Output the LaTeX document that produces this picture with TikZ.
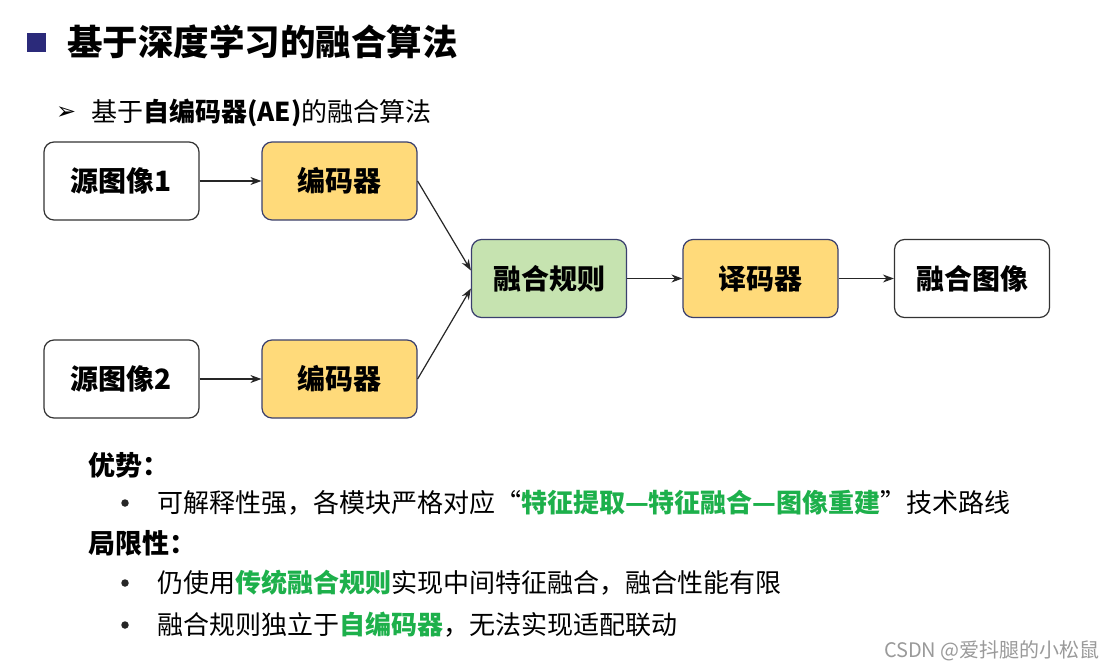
\documentclass[tikz,border=0pt]{standalone}
\usepackage{fontspec}
\setmainfont{Noto Sans CJK SC}
\newfontfamily\dejavu{DejaVu Sans}
\usetikzlibrary{arrows.meta}
\definecolor{navy}{HTML}{2B2A7A}
\definecolor{boxyellow}{HTML}{FFDA7A}
\definecolor{boxgreen}{HTML}{C6E3B0}
\definecolor{boxedge}{HTML}{3A3F6E}
\definecolor{hlgreen}{HTML}{1DB04B}
\definecolor{wmgray}{HTML}{9A9A9A}
\begin{document}
\begin{tikzpicture}[x=1pt,y=-1pt,
  box/.style={draw, rounded corners=10pt, minimum width=155pt, minimum height=78pt, line width=1.2pt, font=\fontsize{28}{30}\selectfont\bfseries, inner sep=0pt},
  plainbox/.style={box, draw=black!80, fill=white},
  encbox/.style={box, draw=boxedge, fill=boxyellow},
  fusebox/.style={box, draw=boxedge, fill=boxgreen},
  arr/.style={-{Stealth[length=11pt,width=8pt]}, line width=1.2pt, draw=black!85},
  txt/.style={anchor=west, inner sep=0pt},
  head/.style={txt, font=\fontsize{27}{29}\selectfont\bfseries},
  body/.style={txt, font=\fontsize{26}{28}\selectfont},
  dot/.style={circle, fill=black!85, inner sep=0pt, minimum size=7.5pt}
]
\fill[white] (0,0) rectangle (1117,670);
\useasboundingbox (0,0) rectangle (1117,670);

% title
\node[fill=navy, minimum size=19pt, inner sep=0pt] (sq) at (36.5,42) {};
\node[txt, font=\fontsize{35.5}{38}\selectfont\bfseries] (title) at (67,42) {基于深度学习的融合算法};
\node[txt, font=\dejavu\fontsize{24}{26}\selectfont] (subarrow) at (56,113) {➢};
\node[txt, font=\fontsize{26}{28}\selectfont] (sub) at (91,113) {基于\textbf{自编码器(AE)}的融合算法};

% diagram
\node[plainbox] (src1) at (121.5,181) {源图像1};
\node[encbox] (enc1) at (339.5,181) {编码器};
\node[plainbox] (src2) at (121.5,379) {源图像2};
\node[encbox] (enc2) at (339.5,379) {编码器};
\node[fusebox] (rule) at (549,278.5) {融合规则};
\node[encbox] (dec) at (760.5,278.5) {译码器};
\node[plainbox] (out) at (972,278.5) {融合图像};

\draw[arr] (src1) -- (enc1);
\draw[arr] (src2) -- (enc2);
\draw[arr] (enc1.east) -- ([yshift=8pt]rule.west);
\draw[arr] (enc2.east) -- ([yshift=-10pt]rule.west);
\draw[arr] (rule) -- (dec);
\draw[arr] (dec) -- (out);

% text
\node[head] (adv) at (88,465) {优势：};
\node[dot] (b1) at (125,503) {};
\node[body] (t1) at (157,503) {可解释性强，各模块严格对应“\textcolor{hlgreen}{\bfseries 特征提取—特征融合—图像重建}”技术路线};
\node[head] (lim) at (88,543) {局限性：};
\node[dot] (b2) at (125,583) {};
\node[body] (t2) at (157,583) {仍使用\textcolor{hlgreen}{\bfseries 传统融合规则}实现中间特征融合，融合性能有限};
\node[dot] (b3) at (125,625) {};
\node[body] (t3) at (157,625) {融合规则独立于\textcolor{hlgreen}{\bfseries 自编码器}，无法实现适配联动};

\node[anchor=east, inner sep=0pt, font=\fontsize{20}{22}\selectfont, text=wmgray] (wm) at (1100,651) {CSDN @爱抖腿的小松鼠};
\end{tikzpicture}
\end{document}
